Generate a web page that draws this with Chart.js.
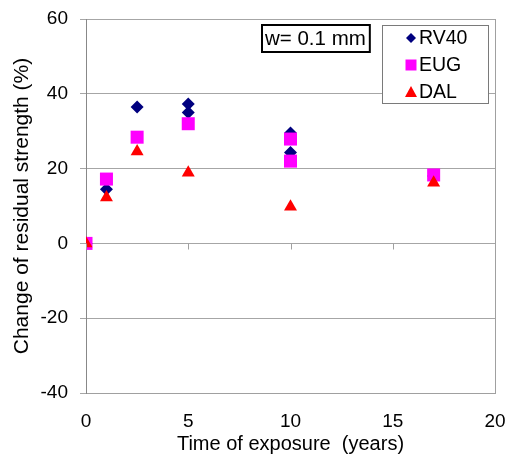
<!DOCTYPE html>
<html>
<head>
<meta charset="utf-8">
<script src="https://cdn.jsdelivr.net/npm/chart.js@4/dist/chart.umd.min.js"></script>
<style>
  html, body { margin: 0; padding: 0; background: #fff; }
  #wrap { width: 508px; height: 455px; }
</style>
</head>
<body>
<div id="wrap"><canvas id="c"></canvas></div>
<script>
// values
const seriesNames = ['RV40', 'EUG', 'DAL'];
const rv40 = [[0, 0], [1, 14.5], [2.5, 36.5], [5, 37.3], [5, 35], [10, 29.5], [10, 24.3], [17, 18]];
const eug  = [[0, 0], [1, 17.2], [2.5, 28.4], [5, 32], [10, 27.9], [10, 22], [17, 18.3]];
const dal  = [[0, 0], [1, 12.3], [2.5, 24.6], [5, 18.9], [10, 9.8], [17, 16.2]];
const xTicks = [0, 5, 10, 15, 20];
const yTicks = [-40, -20, 0, 20, 40, 60];
const note = 'w= 0.1 mm';

const FONT = 'Liberation Sans, Arial, sans-serif';
const colours = ['#00007f', '#ff00ff', '#ff0000'];

function pts(arr) { return arr.map(p => ({x: p[0], y: p[1]})); }

// frame, x ticks on the zero line, note box and legend
const extras = {
  id: 'extras',
  afterDatasetsDraw(chart) {
    const ctx = chart.ctx, a = chart.chartArea;
    const xs = chart.scales.x, ys = chart.scales.y;
    ctx.save();
    ctx.strokeStyle = '#a0a0a0';
    ctx.lineWidth = 1;
    ctx.beginPath();
    ctx.moveTo(a.right + 0.5, a.top);
    ctx.lineTo(a.right + 0.5, a.bottom);
    ctx.stroke();
    // tick marks hang from the 0 line
    const y0 = Math.round(ys.getPixelForValue(0)) + 0.5;
    ctx.beginPath();
    xTicks.forEach(v => {
      const px = Math.round(xs.getPixelForValue(v)) + 0.5;
      ctx.moveTo(px, y0);
      ctx.lineTo(px, y0 + 6);
    });
    ctx.stroke();

    // note box
    ctx.font = '20.5px ' + FONT;
    ctx.textBaseline = 'middle';
    const tw = ctx.measureText(note).width;
    ctx.fillStyle = '#fff';
    ctx.fillRect(262, 25, tw + 7, 27);
    ctx.strokeStyle = '#000';
    ctx.lineWidth = 2;
    ctx.strokeRect(262, 25, tw + 7, 27);
    ctx.fillStyle = '#000';
    ctx.fillText(note, 265, 39);

    // legend
    ctx.fillStyle = '#fff';
    ctx.fillRect(382, 25, 106, 78);
    ctx.strokeStyle = '#7a7a7a';
    ctx.lineWidth = 1;
    ctx.strokeRect(382.5, 25.5, 106, 78);
    ctx.font = '19.5px ' + FONT;
    const rows = [38, 65, 92];
    chart.data.datasets.forEach((ds, i) => {
      const cy = rows[i], cx = 411;
      ctx.fillStyle = ds.backgroundColor;
      ctx.beginPath();
      if (ds.pointStyle === 'rectRot') {
        ctx.moveTo(cx, cy - 5); ctx.lineTo(cx + 5, cy); ctx.lineTo(cx, cy + 5); ctx.lineTo(cx - 5, cy);
      } else if (ds.pointStyle === 'rect') {
        ctx.rect(cx - 5.5, cy - 5.5, 11, 11);
      } else {
        ctx.moveTo(cx, cy - 6); ctx.lineTo(cx + 6, cy + 5); ctx.lineTo(cx - 6, cy + 5);
      }
      ctx.closePath();
      ctx.fill();
      ctx.fillStyle = '#000';
      ctx.fillText(ds.label, 419, cy + 1);
    });
    ctx.restore();
  }
};

new Chart(document.getElementById('c'), {
  type: 'scatter',
  data: {
    datasets: [
      {label: seriesNames[0], data: pts(rv40), pointStyle: 'rectRot', pointRadius: 6.5, order: 2},
      {label: seriesNames[1], data: pts(eug), pointStyle: 'rect', pointRadius: 9.2, order: 1},
      {label: seriesNames[2], data: pts(dal), pointStyle: 'triangle', pointRadius: 7.5, order: 0}
    ].map((d, i) => Object.assign(d, {
      backgroundColor: colours[i], borderColor: colours[i], borderWidth: 0, pointHoverRadius: d.pointRadius
    }))
  },
  options: {
    responsive: true,
    maintainAspectRatio: false,
    animation: false,
    layout: {padding: {left: 0, right: 13, top: 19, bottom: 0}},
    plugins: {legend: {display: false}, tooltip: {enabled: false}},
    scales: {
      x: {
        type: 'linear', min: 0, max: 20,
        afterBuildTicks: s => { s.ticks = xTicks.map(v => ({value: v})); },
        afterFit: s => { s.height = 62; s.paddingLeft = 0; s.paddingRight = 0; },
        grid: {display: false},
        border: {color: '#a0a0a0'},
        ticks: {font: {family: FONT, size: 19}, color: '#000', padding: 9, maxRotation: 0},
        title: {display: true, text: 'Time of exposure  (years)', font: {family: FONT, size: 20}, color: '#000', padding: {top: 0, bottom: -1}}
      },
      y: {
        type: 'linear', min: -40, max: 60,
        afterBuildTicks: s => { s.ticks = yTicks.map(v => ({value: v})); },
        afterFit: s => { s.width = 86; s.paddingTop = 0; s.paddingBottom = 0; },
        grid: {color: '#a6a6a6', tickLength: 6},
        border: {color: '#888'},
        ticks: {font: {family: FONT, size: 19}, color: '#000', padding: 12},
        title: {display: true, text: 'Change of residual strength (%)', font: {family: FONT, size: 21}, color: '#000', padding: {top: 10, bottom: 0}}
      }
    }
  },
  plugins: [extras]
});
</script>
</body>
</html>
